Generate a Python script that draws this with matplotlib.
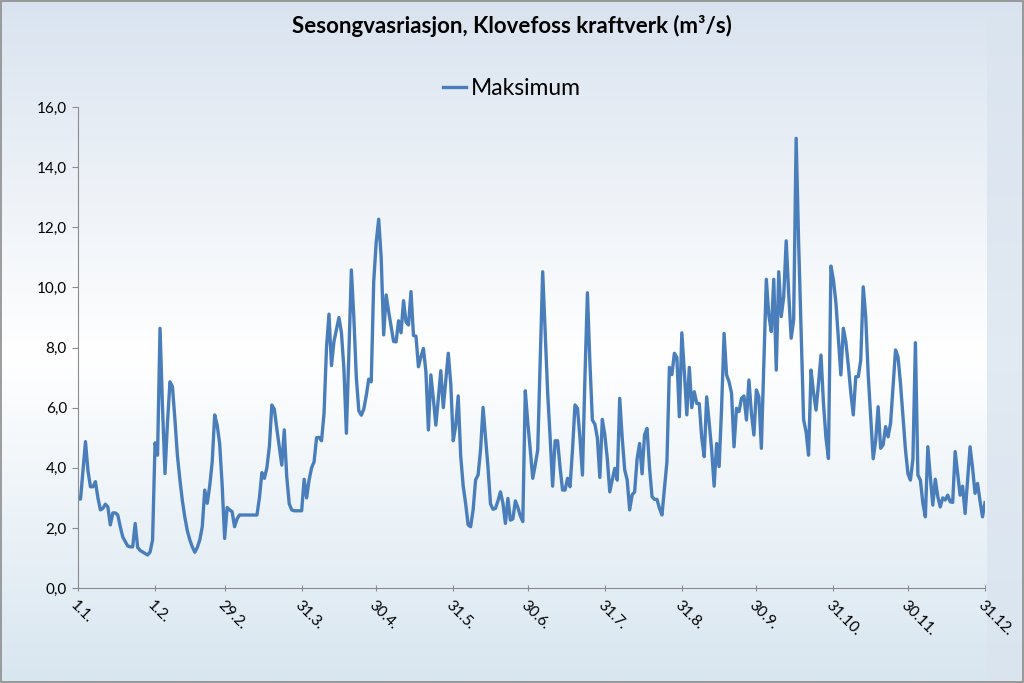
import numpy as np
import matplotlib
matplotlib.use("Agg")
import matplotlib.pyplot as plt
from matplotlib.colors import LinearSegmentedColormap
from matplotlib.ticker import FuncFormatter

plt.rcParams["font.family"] = ["Lato", "DejaVu Sans"]

title = "Sesongvasriasjon, Klovefoss kraftverk (m³/s)"
series_name = "Maksimum"

# daglige maksimumsverdier (m³/s), 1.1. - 31.12. (skuddår)
jan = [2.96, 2.96, 3.9, 4.87, 3.9, 3.37, 3.37, 3.54, 3.0, 2.6,
       2.65, 2.79, 2.7, 2.1, 2.5, 2.5, 2.43, 2.04, 1.7, 1.55,
       1.4, 1.37, 1.37, 2.15, 1.35, 1.25, 1.2, 1.15, 1.1, 1.2, 1.6]
feb = [4.83, 4.42, 8.64, 6.0, 3.81, 5.5, 6.86, 6.7, 5.6, 4.4,
       3.6, 2.9, 2.35, 1.9, 1.6, 1.37, 1.19, 1.35, 1.6, 2.04,
       3.26, 2.82, 3.4, 4.2, 5.76, 5.42, 4.8, 3.43, 1.65]
mar = [2.68, 2.6, 2.54, 2.04, 2.3, 2.43, 2.43, 2.43, 2.43, 2.43,
       2.43, 2.43, 2.43, 3.0, 3.84, 3.65, 4.0, 4.7, 6.09, 5.95,
       5.3, 4.7, 4.09, 5.26, 3.7, 2.8, 2.6, 2.57, 2.57, 2.57, 2.57]
apr = [3.62, 3.0, 3.6, 4.0, 4.2, 5.0, 5.01, 4.9, 5.8, 8.0,
       9.11, 7.4, 8.2, 8.6, 9.0, 8.5, 7.3, 5.15, 7.8, 10.58,
       9.0, 7.0, 5.9, 5.75, 5.95, 6.4, 6.95, 6.86, 10.2, 11.5]
may = [12.27, 11.0, 8.42, 9.75, 9.2, 8.7, 8.2, 8.19, 8.89, 8.49,
       9.56, 8.85, 8.75, 9.86, 8.4, 8.38, 7.36, 7.69, 7.97, 7.2,
       5.26, 7.09, 6.3, 5.42, 6.3, 7.23, 6.0, 6.9, 7.81, 6.8, 4.9]
jun = [5.4, 6.39, 4.4, 3.4, 2.8, 2.1, 2.04, 2.6, 3.6, 3.76,
       4.6, 6.01, 5.0, 4.0, 2.8, 2.62, 2.65, 2.9, 3.2, 2.82,
       2.15, 2.98, 2.26, 2.3, 2.9, 2.68, 2.4, 2.21, 6.56, 5.5]
jul = [4.6, 3.65, 4.1, 4.59, 7.5, 10.52, 8.5, 6.5, 5.0, 3.39,
       4.9, 4.9, 4.0, 3.26, 3.26, 3.65, 3.37, 4.6, 6.09, 5.98,
       5.0, 3.76, 7.0, 9.82, 7.5, 5.59, 5.45, 5.0, 3.68, 5.61, 5.1]
aug = [4.3, 3.2, 3.6, 3.98, 3.59, 6.31, 5.0, 3.93, 3.6, 2.6,
       3.1, 3.2, 4.3, 4.81, 3.8, 5.1, 5.31, 4.0, 3.04, 2.95,
       2.95, 2.65, 2.43, 3.3, 4.2, 7.34, 7.1, 7.81, 7.67, 5.7, 8.49]
sep = [7.2, 5.76, 7.34, 6.0, 6.53, 6.14, 6.14, 5.0, 4.37, 6.36,
       5.5, 4.6, 3.39, 4.81, 4.04, 6.0, 8.47, 7.09, 6.86, 6.48,
       4.7, 5.98, 5.87, 6.31, 6.39, 5.59, 6.92, 5.81, 5.09, 6.59]
okt = [6.36, 4.65, 7.5, 10.27, 9.08, 8.53, 10.27, 7.25, 10.52, 9.03,
       9.69, 11.55, 9.8, 8.31, 8.92, 14.96, 11.5, 8.5, 5.6, 5.2,
       4.42, 7.25, 6.5, 5.92, 6.8, 7.75, 6.14, 5.0, 4.31, 10.71, 10.25]
nov = [9.5, 8.3, 7.09, 8.64, 8.19, 7.4, 6.5, 5.76, 7.03, 7.03,
       7.58, 10.02, 9.03, 7.1, 5.7, 4.3, 4.9, 6.03, 4.65, 4.76,
       5.37, 5.03, 5.48, 6.7, 7.92, 7.69, 6.8, 5.7, 4.6, 3.8]
des = [3.59, 4.3, 8.16, 3.76, 3.59, 2.82, 2.37, 4.7, 3.7, 2.76,
       3.62, 3.04, 2.7, 3.0, 2.93, 3.09, 2.87, 2.85, 4.54, 3.8,
       3.09, 3.39, 2.48, 3.6, 4.7, 4.0, 3.15, 3.48, 2.9, 2.37, 2.84]

verdier = jan + feb + mar + apr + may + jun + jul + aug + sep + okt + nov + des

tick_days = [0, 31, 59, 90, 120, 151, 181, 212, 243, 273, 304, 334, 365]
tick_labels = ["1.1.", "1.2.", "29.2.", "31.3.", "30.4.", "31.5.", "30.6.",
               "31.7.", "31.8.", "30.9.", "31.10.", "30.11.", "31.12."]

fig = plt.figure(figsize=(10.24, 6.83), dpi=100)

# bakgrunn med gradient
bg = fig.add_axes([0, 0, 1, 1], zorder=-2)
bg_cmap = LinearSegmentedColormap.from_list(
    "bg", [(0.0, "#d9e3ef"), (0.52, "#ffffff"), (1.0, "#d8e6f0")])
grad = np.linspace(0, 1, 256).reshape(-1, 1)
bg.imshow(grad, aspect="auto", cmap=bg_cmap, extent=[0, 1, 0, 1], origin="upper")
bg.add_patch(plt.Rectangle((0.964, 0.0), 0.036, 1.0, color="#dae4ef", alpha=0.8, lw=0))
bg.add_patch(plt.Rectangle((0.001, 0.001), 0.998, 0.998, fill=False, ec="#8c8c8c", lw=1.2))
bg.set_xlim(0, 1)
bg.set_ylim(0, 1)
bg.axis("off")

ax = fig.add_axes([0.0762, 0.139, 0.8857, 0.7043])
ax.patch.set_alpha(0)
ax.plot(range(len(verdier)), verdier, color="#4a7ebb", lw=2.4, label=series_name)

ax.set_xlim(0, 365)
ax.set_ylim(0, 16)
ax.set_yticks(np.arange(0, 17, 2))
ax.yaxis.set_major_formatter(FuncFormatter(lambda v, p: f"{v:.1f}".replace(".", ",")))
ax.set_xticks(tick_days)
ax.set_xticklabels(tick_labels, rotation=-45, ha="left", va="top", rotation_mode="anchor")
ax.tick_params(axis="y", labelsize=11, length=4, direction="out", pad=4)
ax.tick_params(axis="x", labelsize=11, length=5, direction="inout", pad=5)
for lab in ax.get_xticklabels() + ax.get_yticklabels():
    lab.set_color("#000000")
for s in ["top", "right"]:
    ax.spines[s].set_visible(False)
ax.spines["left"].set_color("#8c8c8c")
ax.spines["bottom"].set_color("#8c8c8c")
ax.tick_params(color="#8c8c8c")

fig.text(0.5, 0.962, title, ha="center", va="center", fontsize=16, fontweight="bold")
fig.legend(loc="center", bbox_to_anchor=(0.5, 0.871), frameon=False, fontsize=16.5,
           handlelength=1.0, handletextpad=0.2)

fig.savefig("out.png", dpi=100)
